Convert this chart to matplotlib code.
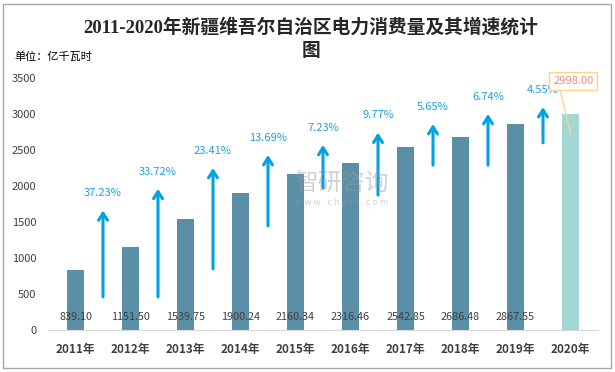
import matplotlib
matplotlib.use("Agg")
import matplotlib.pyplot as plt
from matplotlib.patches import Rectangle

plt.rcParams['font.family'] = ['Noto Sans CJK SC', 'DejaVu Sans']

# 数据
years = ['2011年', '2012年', '2013年', '2014年', '2015年',
         '2016年', '2017年', '2018年', '2019年', '2020年']
consumption = [839.10, 1151.50, 1539.75, 1900.24, 2160.34,
               2316.46, 2542.85, 2686.48, 2867.55, 2998.00]
growth = ['37.23%', '33.72%', '23.41%', '13.69%', '7.23%',
          '9.77%', '5.65%', '6.74%', '4.55%']
# 增速箭头的起点和终点（纵轴数值）
arrow_start = [460, 460, 850, 1445, 1970, 1875, 2290, 2290, 2600]
arrow_end = [1660, 1960, 2250, 2430, 2570, 2740, 2860, 3000, 3095]

bar_color = '#5b8fa7'
last_color = '#a3d7d3'
arrow_color = '#00a2e3'

fig = plt.figure(figsize=(6.15, 3.72), dpi=100)
ax = fig.add_axes([48 / 615, 1 - 330 / 372, 550 / 615, 252 / 372])

x = list(range(len(years)))
colors = [bar_color] * (len(years) - 1) + [last_color]
ax.bar(x, consumption, width=0.3, color=colors, zorder=2)

# 柱底部数值
for i, v in enumerate(consumption[:-1]):
    ax.text(i, 183, f'{v:.2f}', ha='center', va='center',
            fontsize=7.8, color='#404040', zorder=3)

# 增速箭头和标签
for i, g in enumerate(growth):
    xp = i + 0.5
    ax.annotate('', xy=(xp, arrow_end[i]), xytext=(xp, arrow_start[i]),
                arrowprops=dict(arrowstyle='->,head_length=0.5,head_width=0.32',
                                color=arrow_color, lw=2.2, shrinkA=0, shrinkB=0),
                zorder=4)
    ax.annotate(g, xy=(xp, arrow_end[i]), xytext=(0, 12.5),
                textcoords='offset points', ha='center', va='center',
                fontsize=8, color='#1ea0da', zorder=5)

# 2020年数值标注框
ax.annotate(f'{consumption[-1]:.2f}', xy=(9.0, 2720), xytext=(9.05, 3460),
            ha='center', va='center', fontsize=8, color='#f08c80',
            bbox=dict(boxstyle='square,pad=0.35', fc='white', ec='#fbd38a', lw=1),
            arrowprops=dict(arrowstyle='-', color='#fbd38a', lw=1,
                            shrinkA=0, shrinkB=0,
                            relpos=(0.15, 0.0)),
            zorder=6)

ax.set_xlim(-0.5, len(years) - 0.5)
ax.set_ylim(0, 3500)
ax.set_yticks(range(0, 3501, 500))
ax.set_xticks(x)
ax.set_xticklabels(years, fontsize=8.5, fontweight='bold', color='#404040')
ax.tick_params(axis='y', labelsize=8, colors='#404040', length=0, pad=8.5)
ax.tick_params(axis='x', length=0, pad=9)
for s in ['top', 'right', 'left']:
    ax.spines[s].set_visible(False)
ax.spines['bottom'].set_color('#d9d9d9')
ax.set_facecolor('none')

# 水印
fig.text(0.555, 0.505, '智研咨询', fontsize=17, color='#9a9a9a', alpha=0.45,
         ha='center', va='center', zorder=1)
fig.text(0.555, 0.455, 'w w w . c h y x x . c o m', fontsize=6.5, color='#9a9a9a',
         alpha=0.45, ha='center', va='center', zorder=1)

# 标题与单位
title_font = ['Liberation Serif', 'Noto Sans CJK SC']
fig.text(0.505, 1 - 27 / 372, '2011-2020年新疆维吾尔自治区电力消费量及其增速统计',
         ha='center', va='center', fontsize=13.5, color='#262626',
         family=title_font, fontweight='bold')
fig.text(0.505, 1 - 51 / 372, '图', ha='center', va='center', fontsize=13.5,
         color='#262626', family=title_font, fontweight='bold')
fig.text(14 / 615, 1 - 57 / 372, '单位：亿千瓦时', ha='left', va='center',
         fontsize=8, color='#000000')

# 外框
fig.patches.append(Rectangle((3 / 615, 4 / 372), 608 / 615, 364 / 372,
                             transform=fig.transFigure, fill=False,
                             ec='#a6a6a6', lw=1))

fig.savefig('out.png', dpi=100)
